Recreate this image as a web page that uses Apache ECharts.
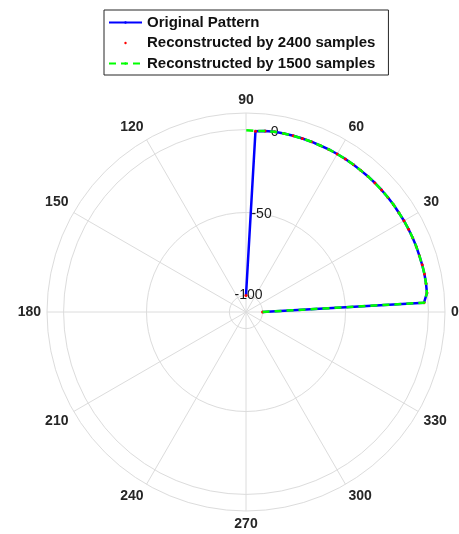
<!DOCTYPE html>
<html>
<head>
<meta charset="utf-8">
<script src="https://cdn.jsdelivr.net/npm/echarts@6/dist/echarts.min.js"></script>
<style>
html,body{margin:0;padding:0;background:#fff;}
#c{width:459px;height:534px;}
</style>
</head>
<body>
<div id="c"></div>
<script>
// Angles (degrees) of the pattern samples
const thetaDeg = [0,3,6,9,12,15,18,21,24,27,30,33,36,39,42,45,48,51,54,57,60,63,66,69,72,75,78,81,84,87,90];
// Original pattern (dB)
const originalPattern = [-100,-2.5,-0.3,-0.1,0,0,-0.1,0,0,0,0,-0.1,0,0,0,0,0,-0.1,0,0,0,0,-0.1,0,0,0,0,0,-0.2,-0.8,-100];
// Reconstructed by 2400 samples (dB)
const recon2400 = [-100,-2.5,-0.3,-0.1,0,0,-0.1,0,0,0,0,-0.1,0,0,0,0,0,-0.1,0,0,0,0,-0.1,0,0,0,0,0,-0.2,-0.8,-100];
// Reconstructed by 1500 samples (dB)
const recon1500 = [-100,-2.4,-0.3,-0.1,0,0,-0.1,0,0,0,0,-0.1,0,0,0,0,0,-0.1,0,0,0,0,-0.1,0,0,0,0,0,-0.2,-0.7,-0.4];

const seriesNames = ['Original Pattern','Reconstructed by 2400 samples','Reconstructed by 1500 samples'];
const angleTicks = [0,30,60,90,120,150,180,210,240,270,300,330];
const radiusTicks = [-100,-50,0];
const rMin = -110, rMax = 10;

function pairs(vals){ return vals.map((v,i)=>[v, thetaDeg[i]]); }

const chart = echarts.init(document.getElementById('c'));
const gridColor = '#dcdcdc';
const txt = '#262626';
const option = {
  animation:false,
  backgroundColor:'#fff',
  legend:{
    orient:'vertical', left:104, top:10,
    padding:[4,13,3,4],
    itemGap:3.5, itemWidth:33, itemHeight:3,
    backgroundColor:'#fff', borderColor:'#262626', borderWidth:1, borderRadius:0,
    textStyle:{fontFamily:'Liberation Sans, Arial, sans-serif', fontSize:15, fontWeight:'bold', color:'#111', lineHeight:17},
    data: seriesNames
  },
  polar:[
    {center:[246,312], radius:199},
    {center:[246,312], radius:199}
  ],
  angleAxis:[
    {polarIndex:0, type:'value', min:0, max:360, interval:30, startAngle:0, clockwise:false,
     axisLine:{show:true, lineStyle:{color:gridColor, width:1}},
     axisTick:{show:false},
     splitLine:{show:true, lineStyle:{color:gridColor, width:1}},
     axisLabel:{show:true, margin:6, color:txt, fontFamily:'Liberation Sans, Arial, sans-serif', fontSize:14, fontWeight:'bold',
       customValues: angleTicks, formatter:(v)=> v===360?'':String(v)}
    },
    {polarIndex:1, type:'value', min:0, max:360, startAngle:81, clockwise:false,
     axisLine:{show:false}, axisTick:{show:false}, splitLine:{show:false}, axisLabel:{show:false}}
  ],
  radiusAxis:[
    {polarIndex:0, type:'value', min:rMin, max:rMax,
     axisLine:{show:false},
     axisTick:{show:false, customValues:radiusTicks},
     axisLabel:{show:false, customValues:radiusTicks},
     splitLine:{show:true, lineStyle:{color:gridColor, width:1}}
    },
    {polarIndex:1, type:'value', min:rMin, max:rMax,
     axisLine:{show:false},
     axisTick:{show:false, customValues:radiusTicks},
     splitLine:{show:false},
     axisLabel:{show:true, customValues:radiusTicks, margin:0, align:'center', verticalAlign:'middle', rotate:0,
       color:'#1a1a1a', fontFamily:'Liberation Sans, Arial, sans-serif', fontSize:14}
    }
  ],
  series:[
    {name:seriesNames[0], type:'line', coordinateSystem:'polar', polarIndex:0,
     data:pairs(originalPattern), symbol:'none', lineStyle:{color:'#0000ff', width:2.5}, itemStyle:{color:'#0000ff'}, z:2},
    {name:seriesNames[1], type:'line', coordinateSystem:'polar', polarIndex:0,
     data:pairs(recon2400), symbol:'circle', symbolSize:3, showSymbol:true,
     lineStyle:{color:'#ff0000', width:0, opacity:0}, itemStyle:{color:'#ff0000'}, z:3},
    {name:seriesNames[2], type:'line', coordinateSystem:'polar', polarIndex:0,
     data:pairs(recon1500), symbol:'none', lineStyle:{color:'#00ff00', width:2.5, type:[7,5]}, itemStyle:{color:'#00ff00'}, z:4}
  ]
};
chart.setOption(option);
</script>
</body>
</html>
